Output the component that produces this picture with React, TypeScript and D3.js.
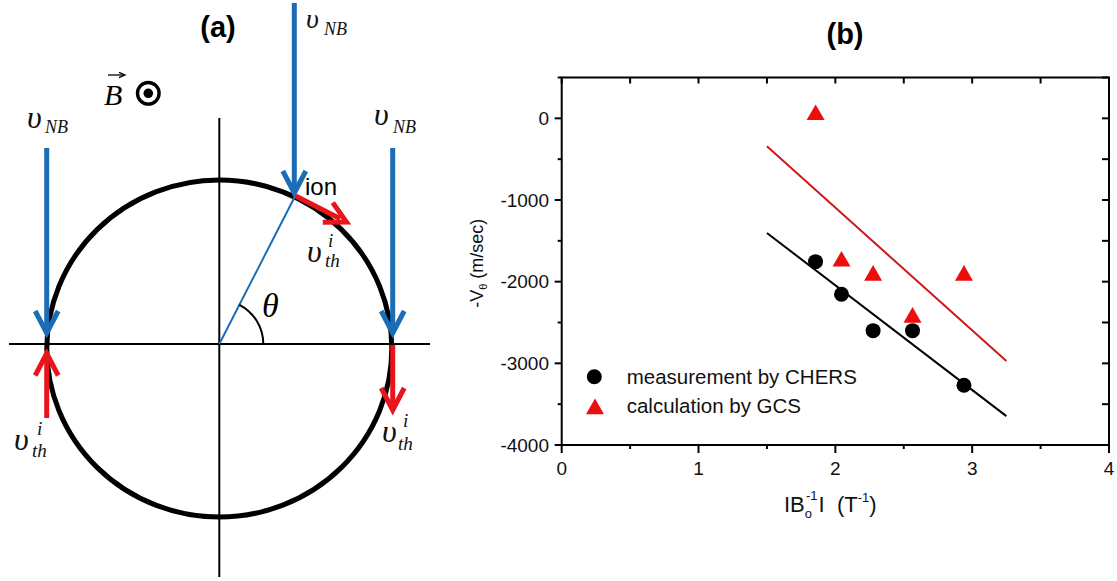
import React from "react";
import * as d3 from "d3";

// ---------- Panel (b) data ----------
const measX = [1.855, 2.045, 2.276, 2.564, 2.94];
const measY = [-1755, -2154, -2600, -2600, -3268];
const calcX = [1.856, 2.045, 2.276, 2.564, 2.94];
const calcY = [43, -1752, -1924, -2438, -1924];
const fitX = [1.5, 3.25];
const fitMeasY = [-1404, -3646];
const fitCalcY = [-343, -2971];
const yMajorTicks = [-4000, -3000, -2000, -1000, 0];
const yTickLabels = ["-4000", "-3000", "-2000", "-1000", "0"];
const xMajorTicks = [0, 1, 2, 3, 4];
const xTickLabels = ["0", "1", "2", "3", "4"];
const legendLabels = ["measurement by CHERS", "calculation by GCS"];

const BLUE = "#1b6db5";
const RED = "#e8161c";
const SANS = "'Liberation Sans', Arial, sans-serif";
const SERIF = "'Liberation Serif', 'Times New Roman', serif";

function Chevron({ tip, dir, color, back = 22, side = 11.5, width = 5 }: any) {
  const [tx, ty] = tip;
  const [dx, dy] = dir;
  const bx = tx - dx * back;
  const by = ty - dy * back;
  const px = -dy * side;
  const py = dx * side;
  return (
    <path
      d={`M${bx + px},${by + py}L${tx},${ty}L${bx - px},${by - py}`}
      fill="none"
      stroke={color}
      strokeWidth={width}
      strokeLinejoin="miter"
    />
  );
}

function UNB({ x, y, sx, sy, size = 32 }: any) {
  return (
    <g fontFamily={SERIF} fontStyle="italic" fill="#111">
      <text x={x} y={y} fontSize={size}>υ</text>
      <text x={sx} y={sy} fontSize={18}>NB</text>
    </g>
  );
}

function UTH({ x, y, ix, iy, tx, ty }: any) {
  return (
    <g fontFamily={SERIF} fontStyle="italic" fill="#111">
      <text x={x} y={y} fontSize={32}>υ</text>
      <text x={ix} y={iy} fontSize={19}>i</text>
      <text x={tx} y={ty} fontSize={19}>th</text>
    </g>
  );
}

export default function App() {
  const x = d3.scaleLinear().domain([0, 4]).range([561.7, 1109]);
  const y = d3.scaleLinear().domain([-4000, 500]).range([445, 77.5]);
  const [x0, x1] = x.range();
  const [y0, y1] = y.range();
  const halfX = d3.range(0, 4.01, 0.5);
  const halfY = d3.range(-4000, 501, 500);
  const line = d3
    .line<number>()
    .x((_, i) => x(fitX[i]))
    .y((d) => y(d));
  const tri = d3.symbol().type(d3.symbolTriangle).size(140)();

  const cx = 219.3;
  const cy = 344;
  const ang = (62.9 * Math.PI) / 180;
  const ionX = 295.7;
  const ionY = 195;
  const arc = d3.arc()({
    innerRadius: 44,
    outerRadius: 44,
    startAngle: Math.PI / 2 - ang,
    endAngle: Math.PI / 2,
  } as any);
  const tang = [Math.sin(ang), Math.cos(ang)];

  return (
    <svg
      width={1117}
      height={581}
      style={{ position: "absolute", left: 0, top: 0, background: "#fff" }}
    >
      <rect x={0} y={0} width={1117} height={581} fill="#fff" />
      {/* ================= Panel (a) ================= */}
      <text x={218} y={37} textAnchor="middle" fontFamily={SANS} fontWeight="bold" fontSize={29}>
        (a)
      </text>
      <line x1={cx} y1={118} x2={cx} y2={577} stroke="#000" strokeWidth={2} />
      <line x1={9} y1={cy} x2={430} y2={cy} stroke="#000" strokeWidth={2} />
      <ellipse cx={cx} cy={348.5} rx={172.5} ry={168.5} fill="none" stroke="#000" strokeWidth={5} />
      <line x1={cx} y1={cy} x2={ionX} y2={ionY} stroke={BLUE} strokeWidth={2} />
      <path d={arc as string} transform={`translate(${cx},${cy})`} fill="none" stroke="#000" strokeWidth={2} />
      <text x={262} y={317} fontFamily={SERIF} fontStyle="italic" fontSize={34}>θ</text>
      {/* B field */}
      <text x={104} y={105} fontFamily={SERIF} fontStyle="italic" fontSize={30}>B</text>
      <line x1={108} y1={75} x2={124} y2={75} stroke="#000" strokeWidth={1.3} />
      <path d="M119,72.3L125,75L119,77.7" fill="none" stroke="#000" strokeWidth={1.3} />
      <circle cx={148.3} cy={93.3} r={10.8} fill="none" stroke="#000" strokeWidth={3.4} />
      <circle cx={148.3} cy={93.3} r={4.8} fill="#000" />
      {/* blue beam arrows */}
      <line x1={294.3} y1={3} x2={294.3} y2={192} stroke={BLUE} strokeWidth={5} />
      <Chevron tip={[294.3, 193]} dir={[0, 1]} color={BLUE} />
      <line x1={46.7} y1={148} x2={46.7} y2={331} stroke={BLUE} strokeWidth={5} />
      <Chevron tip={[46.7, 333]} dir={[0, 1]} color={BLUE} />
      <line x1={392.7} y1={148} x2={392.7} y2={331} stroke={BLUE} strokeWidth={5} />
      <Chevron tip={[392.7, 333]} dir={[0, 1]} color={BLUE} />
      {/* red thermal arrows */}
      <line x1={ionX} y1={ionY + 1} x2={ionX + tang[0] * 50} y2={ionY + 1 + tang[1] * 50} stroke={RED} strokeWidth={5} />
      <Chevron tip={[ionX + tang[0] * 57, ionY + 1 + tang[1] * 57]} dir={tang} color={RED} back={21} side={11} />
      <line x1={46.7} y1={418} x2={46.7} y2={356} stroke={RED} strokeWidth={5} />
      <Chevron tip={[46.7, 353.5]} dir={[0, -1]} color={RED} />
      <line x1={392.7} y1={345} x2={392.7} y2={407} stroke={RED} strokeWidth={5} />
      <Chevron tip={[392.7, 410]} dir={[0, 1]} color={RED} />
      {/* labels */}
      <text x={305} y={195} fontFamily={SANS} fontSize={24}>ion</text>
      <UNB x={306} y={27.5} sx={324} sy={35} size={28} />
      <UNB x={27} y={128} sx={45} sy={133.3} />
      <UNB x={374} y={125} sx={393} sy={133} />
      <UTH x={307} y={261.7} ix={328} iy={247} tx={325} ty={266.7} />
      <UTH x={14} y={450} ix={37} iy={435} tx={32} ty={456.7} />
      <UTH x={382} y={441.7} ix={403} iy={427} tx={398} ty={450} />

      {/* ================= Panel (b) ================= */}
      <text x={845} y={44} textAnchor="middle" fontFamily={SANS} fontWeight="bold" fontSize={29}>
        (b)
      </text>
      <path d={line(fitCalcY) as string} fill="none" stroke="#cc1a1a" strokeWidth={2} />
      <path d={line(fitMeasY) as string} fill="none" stroke="#000" strokeWidth={2} />
      {calcX.map((v, i) => (
        <path key={"t" + i} d={tri as string} transform={`translate(${x(v)},${y(calcY[i])})`} fill="#ee0d0d" />
      ))}
      {measX.map((v, i) => (
        <circle key={"c" + i} cx={x(v)} cy={y(measY[i])} r={7.5} fill="#000" />
      ))}
      <rect x={x0} y={y1} width={x1 - x0} height={y0 - y1} fill="none" stroke="#000" strokeWidth={2} />
      {halfX.map((v) => (
        <line key={"bx" + v} x1={x(v)} x2={x(v)} y1={y0} y2={y0 + (Number.isInteger(v) ? 8 : 4)} stroke="#000" strokeWidth={2} />
      ))}
      {halfX.map((v) => (
        <line key={"tx" + v} x1={x(v)} x2={x(v)} y1={y1} y2={y1 + 6} stroke="#000" strokeWidth={2} />
      ))}
      {halfY.map((v) => (
        <line key={"ly" + v} x1={x0} x2={x0 - (v % 1000 === 0 ? 7 : 4)} y1={y(v)} y2={y(v)} stroke="#000" strokeWidth={2} />
      ))}
      {halfY.map((v) => (
        <line key={"ry" + v} x1={x1} x2={x1 - 7} y1={y(v)} y2={y(v)} stroke="#000" strokeWidth={2} />
      ))}
      {yMajorTicks.map((v, i) => (
        <text key={"yl" + v} x={549} y={y(v) + 6.5} textAnchor="end" fontFamily={SANS} fontSize={19} fill="#111">
          {yTickLabels[i]}
        </text>
      ))}
      {xMajorTicks.map((v, i) => (
        <text key={"xl" + v} x={x(v)} y={475} textAnchor="middle" fontFamily={SANS} fontSize={19} fill="#111">
          {xTickLabels[i]}
        </text>
      ))}
      <text
        transform={`translate(483,${(y0 + y1) / 2 + 2}) rotate(-90)`}
        textAnchor="middle"
        fontFamily={SANS}
        fontSize={18}
        fill="#111"
      >
        -V
        <tspan dy={4} fontSize={11}>θ</tspan>
        <tspan dy={-4}> (m/sec)</tspan>
      </text>
      <text x={784} y={512} fontFamily={SANS} fontSize={22} fill="#111" style={{ whiteSpace: "pre" }}>
        IB
        <tspan dy={6} fontSize={13}>o</tspan>
        <tspan dx={-6} dy={-18} fontSize={13}>-1</tspan>
        <tspan dx={1} dy={12} fontSize={22}>{"I  (T"}</tspan>
        <tspan dy={-10} fontSize={13}>-1</tspan>
        <tspan dy={10} fontSize={22}>)</tspan>
      </text>
      <circle cx={594.3} cy={376.7} r={7.5} fill="#000" />
      <path d={tri as string} transform="translate(595,409)" fill="#ee0d0d" />
      <text x={626.7} y={384} fontFamily={SANS} fontSize={20.5} fill="#111">
        {legendLabels[0]}
      </text>
      <text x={626.7} y={413.3} fontFamily={SANS} fontSize={20.5} fill="#111">
        {legendLabels[1]}
      </text>
    </svg>
  );
}
